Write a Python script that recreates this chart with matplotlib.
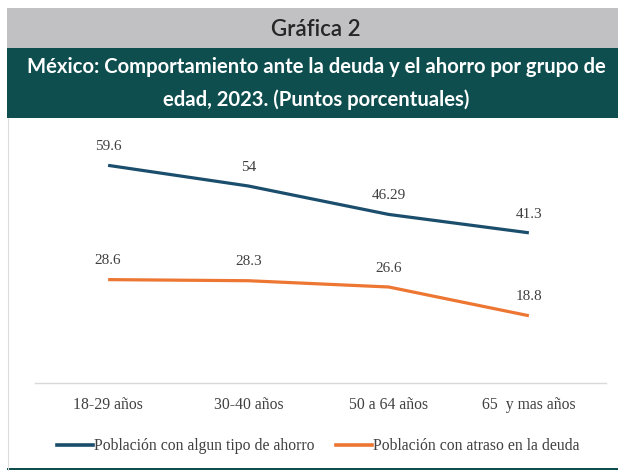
import matplotlib.pyplot as plt
from matplotlib.patches import Rectangle
from matplotlib.lines import Line2D

categorias = ["18-29 años", "30-40 años", "50 a 64 años", "65  y mas años"]
ahorro = [59.6, 54, 46.29, 41.3]
atraso = [28.6, 28.3, 26.6, 18.8]
etiq_ahorro = ["59.6", "54", "46.29", "41.3"]
etiq_atraso = ["28.6", "28.3", "26.6", "18.8"]
serie_nombres = ["Población con algun tipo de ahorro", "Población con atraso en la deuda"]

azul = "#1b4e6c"
naranja = "#ec7632"
verde = "#0f4e4f"
gris = "#c1c1c3"
texto = "#404040"

W, H = 618, 473
fig = plt.figure(figsize=(W / 100, H / 100), dpi=100)
fig.patch.set_facecolor("white")

# bandas de encabezado
fig.patches.append(Rectangle((7 / W, 1 - 48 / H), 1 - 7 / W, 40 / H, transform=fig.transFigure,
                             facecolor=gris, edgecolor="none"))
fig.patches.append(Rectangle((7 / W, 1 - 118 / H), 1 - 7 / W, 70 / H, transform=fig.transFigure,
                             facecolor=verde, edgecolor="none"))
# borde inferior
fig.patches.append(Rectangle((7 / W, 1 - 470 / H), 1 - 7 / W, 2 / H, transform=fig.transFigure,
                             facecolor=verde, edgecolor="none"))
fig.add_artist(Line2D([7.5 / W, 7.5 / W], [1 - 470 / H, 1 - 118 / H], color="#dcdcdc", lw=0.8))

fig.text(316 / W, 1 - 29 / H, "Gráfica 2", ha="center", va="center", fontsize=16,
         family="Lato", weight="semibold", color="#262626")
fig.text(316 / W, 1 - 67 / H, "México: Comportamiento ante la deuda y el ahorro por grupo de",
         ha="center", va="center", fontsize=14.6, family="Lato", weight="bold", color="white")
fig.text(316 / W, 1 - 100 / H, "edad, 2023. (Puntos porcentuales)",
         ha="center", va="center", fontsize=14.6, family="Lato", weight="bold", color="white")

# ejes: linea base en y=383
ax = fig.add_axes([38 / W, 1 - 383 / H, 561 / W, 258 / H])
x = range(len(categorias))
ax.plot(x, ahorro, color=azul, lw=2.3, solid_capstyle="butt")
ax.plot(x, atraso, color=naranja, lw=2.3, solid_capstyle="butt")
for i in x:
    ax.annotate(etiq_ahorro[i], (i, ahorro[i]), xytext=(0, 13.5), textcoords="offset points",
                ha="center", va="center", fontsize=11, family="Liberation Serif", color=texto)
    ax.annotate(etiq_atraso[i], (i, atraso[i]), xytext=(0, 13.5), textcoords="offset points",
                ha="center", va="center", fontsize=11, family="Liberation Serif", color=texto)

ax.set_xlim(-0.5, len(categorias) - 0.5)
ax.set_ylim(0.55, 70.55)
ax.set_xticks(list(x))
ax.set_xticklabels(categorias, family="Liberation Serif", fontsize=11.3, color=texto)
ax.tick_params(axis="x", length=0, pad=10)
ax.set_yticks([])
for s in ["top", "left", "right"]:
    ax.spines[s].set_visible(False)
ax.spines["bottom"].set_color("#d9d9d9")
ax.spines["bottom"].set_linewidth(1)
ax.spines["bottom"].set_bounds(-0.52, 3.55)

handles = [Line2D([], [], color=azul, lw=2.6), Line2D([], [], color=naranja, lw=2.6)]
fig.legend(handles, serie_nombres, loc="center", bbox_to_anchor=(318 / W, 1 - 446 / H), ncol=2,
           frameon=False, handlelength=2.3, handletextpad=0.05, columnspacing=1.4,
           prop={"family": "Liberation Serif", "size": 11.3}, labelcolor=texto)

fig.savefig("out.png", dpi=100, facecolor="white")
